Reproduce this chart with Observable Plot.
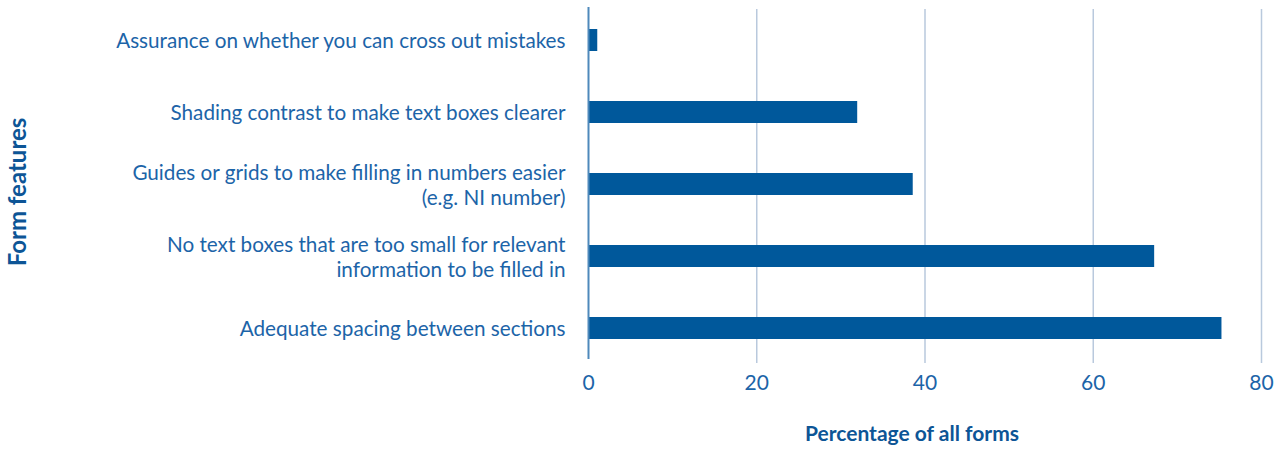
<!DOCTYPE html>
<html>
<head>
<meta charset="utf-8">
<script src="https://cdn.jsdelivr.net/npm/d3@7"></script>
<script src="https://cdn.jsdelivr.net/npm/@observablehq/plot@0.6"></script>
<style>
  html, body { margin: 0; padding: 0; background: #fff; }
  #chart svg { display: block; }
</style>
</head>
<body>
<div id="chart"></div>
<script>
const categories = [
  "Assurance on whether you can cross out mistakes",
  "Shading contrast to make text boxes clearer",
  "Guides or grids to make filling in numbers easier\n(e.g. NI number)",
  "No text boxes that are too small for relevant\ninformation to be filled in",
  "Adequate spacing between sections"
];
const values = [1.1, 32.0, 38.6, 67.3, 75.3];
const xTicks = [0, 20, 40, 60, 80];
const xLabel = "Percentage of all forms";
const yLabel = "Form features";

const data = categories.map((c, i) => ({category: c, value: values[i]}));

const textColor = "#1c64a8";
const font = "Lato, 'Open Sans', sans-serif";

const chart = Plot.plot({
  width: 1286,
  height: 451,
  marginLeft: 588,
  marginRight: 25,
  marginTop: 3,
  marginBottom: 85,
  style: {fontFamily: font, background: "#fff", overflow: "visible"},
  x: {domain: [0, 80], ticks: xTicks},
  y: {domain: categories, paddingInner: 0.69, paddingOuter: 0.345},
  marks: [
    Plot.ruleX(xTicks.filter(d => d > 0), {stroke: "#b9c9dd", strokeWidth: 1.5, insetTop: 6, insetBottom: 3}),
    Plot.barX(data, {y: "category", x: "value", fill: "#00589b"}),
    Plot.ruleX([0], {stroke: "#4f89bb", strokeWidth: 2, insetTop: 4, insetBottom: 7}),
    Plot.axisX({ticks: xTicks, tickSize: 0, tickPadding: 9, fontSize: 21, fill: textColor, label: null, tickFormat: d => d}),
    Plot.axisY({tickSize: 0, tickPadding: 23, fontSize: 20.7, fill: textColor, lineHeight: 1.2, label: null, textOverflow: null}),
    Plot.text([xLabel], {frameAnchor: "bottom", dy: 74, dx: -13, fontSize: 21, fontWeight: "bold", fill: "#0d5596"}),
    Plot.text([yLabel], {frameAnchor: "left", textAnchor: "middle", dx: -570, dy: 7, rotate: -90, fontSize: 24, fontWeight: "bold", fill: "#0d5596"})
  ]
});
document.getElementById("chart").appendChild(chart);
</script>
</body>
</html>
